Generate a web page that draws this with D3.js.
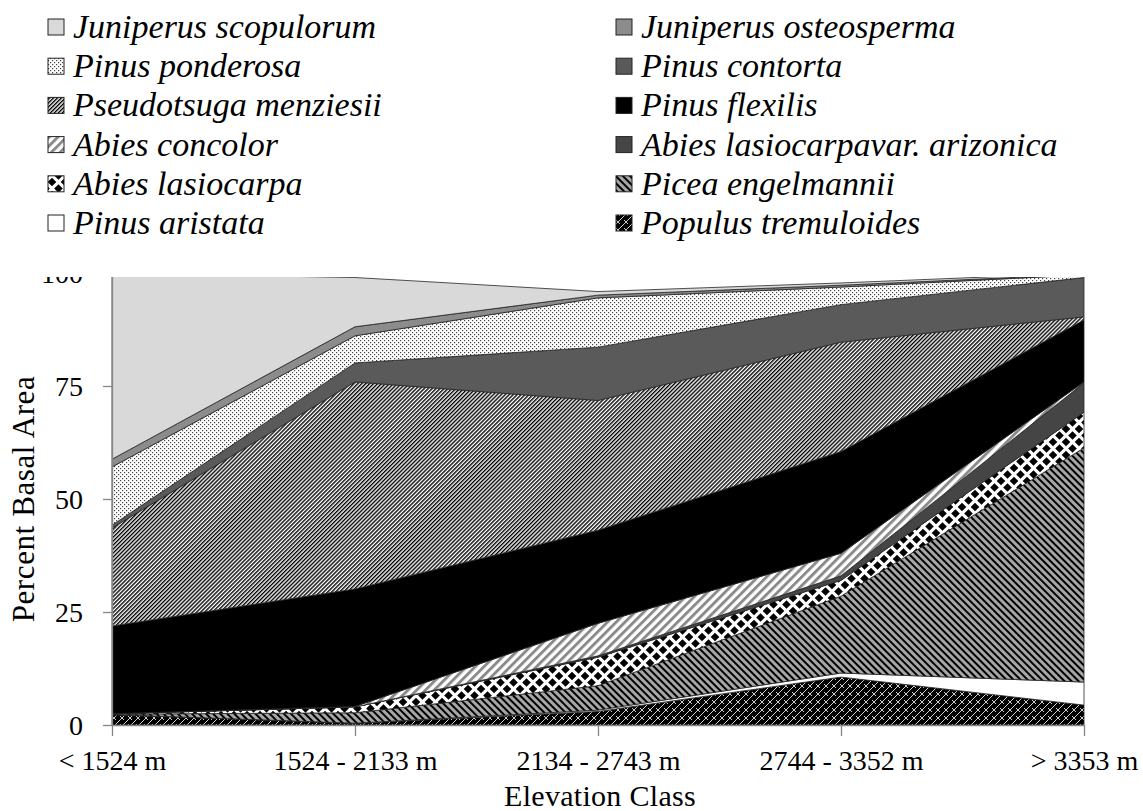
<!DOCTYPE html>
<html>
<head>
<meta charset="utf-8">
<script src="https://cdn.jsdelivr.net/npm/d3@7"></script>
<style>
  html, body { margin: 0; padding: 0; background: #fff; }
  svg { display: block; }
  text { font-family: "Liberation Serif", "Times New Roman", serif; fill: #000; }
</style>
</head>
<body>
<svg id="chart" width="1143" height="811"></svg>
<script>
// ---------- DATA ----------
const categories = ["< 1524 m", "1524 - 2133 m", "2134 - 2743 m", "2744 - 3352 m", "> 3353 m"];
const yTicks = [0, 25, 50, 75, 100];

// stacking order, bottom to top
const speciesBottomUp = [
  "Populus tremuloides", "Pinus aristata", "Picea engelmannii", "Abies lasiocarpa",
  "Abies lasiocarpavar. arizonica", "Abies concolor", "Pinus flexilis",
  "Pseudotsuga menziesii", "Pinus contorta", "Pinus ponderosa",
  "Juniperus osteosperma", "Juniperus scopulorum"
];

const populusTremuloides   = [2.3, 0.4, 3.0, 10.6, 4.4];
const pinusAristata        = [0.0, 0.0, 0.3, 0.9, 5.1];
const piceaEngelmannii     = [0.1, 2.3, 5.4, 17.0, 51.8];
const abiesLasiocarpa      = [0.1, 1.3, 6.3, 3.5, 7.9];
const abiesLasiocarpaAriz  = [0.0, 0.0, 0.3, 1.0, 6.5];
const abiesConcolor        = [0.0, 0.1, 7.2, 5.0, 0.2];
const pinusFlexilis        = [19.4, 26.0, 20.6, 22.5, 13.7];
const pseudotsugaMenziesii = [21.7, 45.8, 28.7, 24.2, 0.7];
const pinusContorta        = [0.6, 4.2, 11.8, 8.3, 8.7];
const pinusPonderosa       = [12.9, 6.0, 10.9, 3.9, 0.6];
const juniperusOsteosperma = [1.7, 2.0, 0.6, 0.4, 0.1];
const juniperusScopulorum  = [41.2, 10.9, 0.8, 0.5, 0.3];

// legend order (row-wise, two columns)
const legendOrder = [
  "Juniperus scopulorum", "Juniperus osteosperma",
  "Pinus ponderosa", "Pinus contorta",
  "Pseudotsuga menziesii", "Pinus flexilis",
  "Abies concolor", "Abies lasiocarpavar. arizonica",
  "Abies lasiocarpa", "Picea engelmannii",
  "Pinus aristata", "Populus tremuloides"
];

// ---------- BUILD ----------
const seriesValues = {
  "Populus tremuloides": populusTremuloides,
  "Pinus aristata": pinusAristata,
  "Picea engelmannii": piceaEngelmannii,
  "Abies lasiocarpa": abiesLasiocarpa,
  "Abies lasiocarpavar. arizonica": abiesLasiocarpaAriz,
  "Abies concolor": abiesConcolor,
  "Pinus flexilis": pinusFlexilis,
  "Pseudotsuga menziesii": pseudotsugaMenziesii,
  "Pinus contorta": pinusContorta,
  "Pinus ponderosa": pinusPonderosa,
  "Juniperus osteosperma": juniperusOsteosperma,
  "Juniperus scopulorum": juniperusScopulorum
};
const rows = categories.map((c, i) => {
  const r = { cat: c };
  speciesBottomUp.forEach(k => r[k] = seriesValues[k][i]);
  return r;
});

const svg = d3.select("#chart");
const defs = svg.append("defs");

function stripes(id, period, lw, bg, fg, angle) {
  const p = defs.append("pattern").attr("id", id)
    .attr("patternUnits", "userSpaceOnUse")
    .attr("width", period).attr("height", period)
    .attr("patternTransform", `rotate(${angle})`);
  p.append("rect").attr("width", period).attr("height", period).attr("fill", bg);
  p.append("rect").attr("width", lw).attr("height", period).attr("fill", fg);
}
// Pinus ponderosa dots
{
  const p = defs.append("pattern").attr("id", "pDots")
    .attr("patternUnits", "userSpaceOnUse").attr("width", 4).attr("height", 4);
  p.append("rect").attr("width", 4).attr("height", 4).attr("fill", "#fff");
  p.append("rect").attr("x", 0).attr("y", 0).attr("width", 1.2).attr("height", 1.2).attr("fill", "#444");
  p.append("rect").attr("x", 2).attr("y", 2).attr("width", 1.2).attr("height", 1.2).attr("fill", "#444");
}
stripes("pPM", 2.8, 1.4, "#fff", "#000", 45);
stripes("pAC", 6.2, 2.9, "#fff", "#8a8a8a", 45);
stripes("pPE", 5.0, 2.0, "#a6a6a6", "#000", -45);
// Abies lasiocarpa diamonds
{
  const s = 13, r = 4.3;
  const p = defs.append("pattern").attr("id", "pAL")
    .attr("patternUnits", "userSpaceOnUse").attr("width", s).attr("height", s);
  p.append("rect").attr("width", s).attr("height", s).attr("fill", "#fff");
  const centers = [[s/2, s/2], [0, 0], [s, 0], [0, s], [s, s]];
  centers.forEach(([cx, cy]) => {
    p.append("path").attr("d", `M${cx - r},${cy}L${cx},${cy - r}L${cx + r},${cy}L${cx},${cy + r}Z`).attr("fill", "#000");
  });
}
// Populus tremuloides brick crosshatch
{
  const s = 8;
  const p = defs.append("pattern").attr("id", "pPT")
    .attr("patternUnits", "userSpaceOnUse").attr("width", s).attr("height", s);
  p.append("rect").attr("width", s).attr("height", s).attr("fill", "#000");
  p.append("path").attr("d", `M0,${s}L${s},0M-1,1L1,-1M${s-1},${s+1}L${s+1},${s-1}M0,${s/2}L${s/2},${s}`)
    .attr("stroke", "#fff").attr("stroke-width", 0.8).attr("fill", "none");
}

const fills = {
  "Juniperus scopulorum": "#d9d9d9",
  "Juniperus osteosperma": "#8c8c8c",
  "Pinus ponderosa": "url(#pDots)",
  "Pinus contorta": "#5a5a5a",
  "Pseudotsuga menziesii": "url(#pPM)",
  "Pinus flexilis": "#000",
  "Abies concolor": "url(#pAC)",
  "Abies lasiocarpavar. arizonica": "#454545",
  "Abies lasiocarpa": "url(#pAL)",
  "Picea engelmannii": "url(#pPE)",
  "Pinus aristata": "#fff",
  "Populus tremuloides": "url(#pPT)"
};

// ---------- SCALES ----------
const x = d3.scalePoint().domain(categories).range([112, 1084]);
const y = d3.scaleLinear().domain([0, 100]).range([725, 273]);

// clip (top of chart is cut in the original)
defs.append("clipPath").attr("id", "chartClip")
  .append("rect").attr("x", 0).attr("y", 277).attr("width", 1143).attr("height", 560);

const chart = svg.append("g").attr("clip-path", "url(#chartClip)");

const stack = d3.stack().keys(speciesBottomUp);
const layers = stack(rows);
const area = d3.area()
  .x(d => x(d.data.cat))
  .y0(d => y(d[0]))
  .y1(d => y(d[1]));

chart.append("g").selectAll("path").data(layers).join("path")
  .attr("d", area)
  .attr("fill", d => fills[d.key])
  .attr("stroke", "#262626")
  .attr("stroke-width", 0.8)
  .attr("stroke-linejoin", "round");

// axes
const axisColor = "#868686";
const serif = "'Liberation Serif', 'Times New Roman', serif";
const yAxis = chart.append("g").attr("transform", "translate(112,0)")
  .call(d3.axisLeft(y).tickValues(yTicks).tickSize(9).tickSizeOuter(0).tickPadding(0));
yAxis.select(".domain").attr("stroke", axisColor).attr("stroke-width", 1.3);
yAxis.selectAll(".tick line").attr("stroke", axisColor).attr("stroke-width", 1.3);
yAxis.selectAll(".tick text")
  .attr("x", -29).attr("dy", "0.33em")
  .style("font-size", "28px").style("font-family", serif)
  .attr("fill", "#000");

const xAxis = chart.append("g").attr("transform", "translate(0,725)")
  .call(d3.axisBottom(x).tickSize(11).tickSizeOuter(0));
xAxis.select(".domain").attr("stroke", axisColor).attr("stroke-width", 1.3);
xAxis.selectAll(".tick line").attr("stroke", axisColor).attr("stroke-width", 1.3);
xAxis.selectAll(".tick text")
  .attr("y", 45).attr("dy", null)
  .style("font-size", "28px").style("font-family", serif)
  .attr("fill", "#000");

// axis titles
svg.append("text")
  .attr("transform", "translate(34,499) rotate(-90)")
  .attr("text-anchor", "middle")
  .style("font-size", "31px")
  .style("letter-spacing", "0.6px")
  .text("Percent Basal Area");
svg.append("text")
  .attr("x", 600).attr("y", 806)
  .attr("text-anchor", "middle")
  .style("font-size", "30px")
  .style("letter-spacing", "0.3px")
  .text("Elevation Class");

// legend
const legend = svg.append("g");
legendOrder.forEach((name, i) => {
  const col = i % 2, row = Math.floor(i / 2);
  const bx = col === 0 ? 48 : 616;
  const cy = 27 + row * 39.2;
  const g = legend.append("g");
  g.append("rect")
    .attr("x", bx).attr("y", cy - 8).attr("width", 16).attr("height", 16)
    .attr("fill", fills[name]).attr("stroke", "#222").attr("stroke-width", 1);
  g.append("text")
    .attr("x", bx + 25).attr("y", cy + 11)
    .style("font-size", "34px")
    .style("font-style", "italic")
    .style("font-family", serif)
    .text(name);
});
</script>
</body>
</html>
